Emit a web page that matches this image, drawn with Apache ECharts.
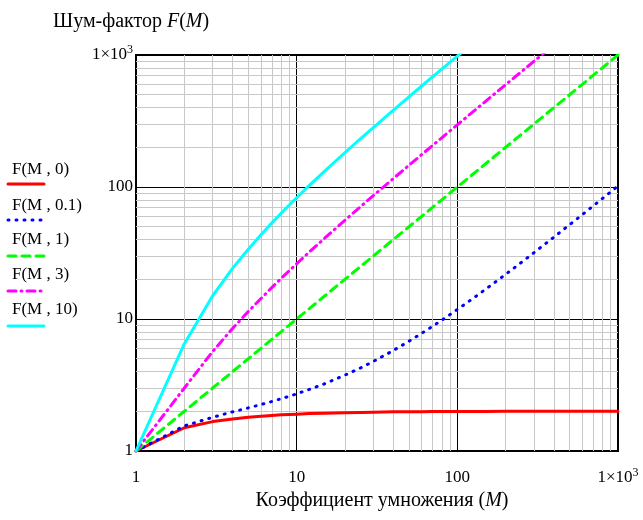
<!DOCTYPE html>
<html>
<head>
<meta charset="utf-8">
<script src="https://cdn.jsdelivr.net/npm/echarts@6/dist/echarts.min.js"></script>
<style>html,body{margin:0;padding:0;background:#fff}#c{width:643px;height:520px}</style>
</head>
<body>
<div id="c"></div>
<script>
// Gain values M (x axis)
var M = [1, 2, 3, 4, 5, 6, 7, 8, 9, 10, 12, 15, 20, 25, 30, 40, 50, 60, 70, 80, 100, 120, 150, 200, 250, 300, 400, 500, 600, 700, 800, 1000];
// Noise factor values
var F_k0   = [1, 1.5, 1.67, 1.75, 1.8, 1.83, 1.86, 1.88, 1.89, 1.9, 1.92, 1.93, 1.95, 1.96, 1.97, 1.98, 1.98, 1.98, 1.99, 1.99, 1.99, 1.99, 1.99, 2.0, 2.0, 2.0, 2.0, 2.0, 2.0, 2.0, 2.0, 2.0];
var F_k01  = [1, 1.55, 1.8, 1.98, 2.12, 2.25, 2.37, 2.49, 2.6, 2.71, 2.93, 3.24, 3.76, 4.26, 4.77, 5.78, 6.78, 7.79, 8.79, 9.79, 11.8, 13.8, 16.8, 21.8, 26.8, 31.8, 41.8, 51.8, 61.8, 71.8, 81.8, 101.8];
var F_k1   = [1, 2, 3, 4, 5, 6, 7, 8, 9, 10, 12, 15, 20, 25, 30, 40, 50, 60, 70, 80, 100, 120, 150, 200, 250, 300, 400, 500, 600, 700, 800, 1000];
var F_k3   = [1, 3, 5.67, 8.5, 11.4, 14.3, 17.3, 20.3, 23.2, 26.2, 32.2, 41.1, 56.1, 71.1, 86.1, 116, 146, 176, 206, 236, 296, 356, 446, 596, 746, 896, 1196, 1496, 1796, 2096, 2396, 2996];
var F_k10  = [1, 6.5, 15, 24.3, 33.8, 43.5, 53.3, 63.1, 73, 82.9, 102.8, 132.6, 182.5, 232.4, 282.3, 382.2, 482.2, 582.2, 682.1, 782.1, 982.1, 1182, 1482, 1982, 2482, 2982, 3982, 4982, 5982, 6982, 7982, 9982];
// Tick labels
var xTicks = {1: '1', 10: '10', 100: '100', 1000: '1×10{sup|3}'};
var yTicks = {1: '1', 10: '10', 100: '100', 1000: '1×10{sup|3}'};
var minorVals = [2,3,4,5,6,7,8,9,20,30,40,50,60,70,80,90,200,300,400,500,600,700,800,900];
var legendNames = ['F(M , 0)', 'F(M , 0.1)', 'F(M , 1)', 'F(M , 3)', 'F(M , 10)'];

var FONT = "'Liberation Serif','Times New Roman',serif";
function pairs(ys){ return M.map(function(m,i){ return [m, ys[i]]; }); }
var rich = { sup: { fontSize: 12, fontFamily: FONT, color: '#000', padding: [0,0,10,0] } };
function fmt(map){ return function(v){ var r = Math.round(v); return map[r] !== undefined ? map[r] : ''; }; }

var colors = ['#ff0000', '#0000ff', '#00ff00', '#ff00ff', '#00ffff'];
var dashes = ['solid', [1, 7], [8, 6], [8, 5, 1, 5], 'solid'];
var ys = [F_k0, F_k01, F_k1, F_k3, F_k10];

var series = [{
  type: 'line', data: [[1, 1]], z: 1, symbol: 'none', silent: true,
  lineStyle: { opacity: 0 },
  markLine: {
    silent: true, symbol: ['none', 'none'], label: { show: false }, animation: false,
    lineStyle: { color: '#c8c8c8', width: 1, type: 'solid' },
    data: minorVals.map(function(v){ return { xAxis: v }; }).concat(minorVals.map(function(v){ return { yAxis: v }; }))
  }
}];
ys.forEach(function(y, i){
  series.push({
    type: 'line', data: pairs(y), z: 5, showSymbol: false, symbol: 'none', clip: true,
    lineStyle: { color: colors[i], width: 3, type: dashes[i], cap: 'round', join: 'round' }
  });
});

var graphic = [];
var legTextY = [170, 206, 240, 275, 310];
var legLineY = [184, 220, 256, 291, 326];
legendNames.forEach(function(n, i){
  graphic.push({ type: 'text', x: 12, y: legTextY[i], style: { text: n, font: '17px ' + FONT, fill: '#000', verticalAlign: 'middle' } });
  graphic.push({ type: 'line', shape: { x1: 8, y1: legLineY[i], x2: 44, y2: legLineY[i] },
    style: { stroke: colors[i], lineWidth: 3, lineDash: dashes[i] === 'solid' ? null : dashes[i], lineCap: 'round' } });
});
graphic.push({ type: 'text', x: 53, y: 22, style: {
  text: 'Шум-фактор {i|F}({i|M})', font: '20px ' + FONT, fill: '#000', verticalAlign: 'middle',
  rich: { i: { fontStyle: 'italic', fontSize: 20, fontFamily: FONT } } } });
graphic.push({ type: 'text', x: 382, y: 501, style: {
  text: 'Коэффициент умножения ({i|M})', font: '20px ' + FONT, fill: '#000', align: 'center', verticalAlign: 'middle',
  rich: { i: { fontStyle: 'italic', fontSize: 20, fontFamily: FONT } } } });

var chart = echarts.init(document.getElementById('c'), null, { renderer: 'canvas' });
chart.setOption({
  animation: false,
  backgroundColor: '#fff',
  grid: { left: 136, right: 25, top: 55, bottom: 69, show: true, borderColor: '#000', borderWidth: 2, backgroundColor: 'transparent' },
  xAxis: {
    type: 'log', logBase: 10, min: 1, max: 1000,
    axisLine: { lineStyle: { color: '#000', width: 1 } },
    axisTick: { show: false },
    splitLine: { show: true, lineStyle: { color: '#000', width: 1 } },
    axisLabel: { formatter: fmt(xTicks), rich: rich, color: '#000', fontFamily: FONT, fontSize: 17, lineHeight: 30, margin: 12 }
  },
  yAxis: {
    type: 'log', logBase: 10, min: 1, max: 1000,
    axisLine: { lineStyle: { color: '#000', width: 1 } },
    axisTick: { show: false },
    splitLine: { show: true, lineStyle: { color: '#000', width: 1 } },
    axisLabel: { formatter: fmt(yTicks), rich: rich, color: '#000', fontFamily: FONT, fontSize: 17, margin: 3 }
  },
  graphic: graphic,
  series: series
});
</script>
</body>
</html>
